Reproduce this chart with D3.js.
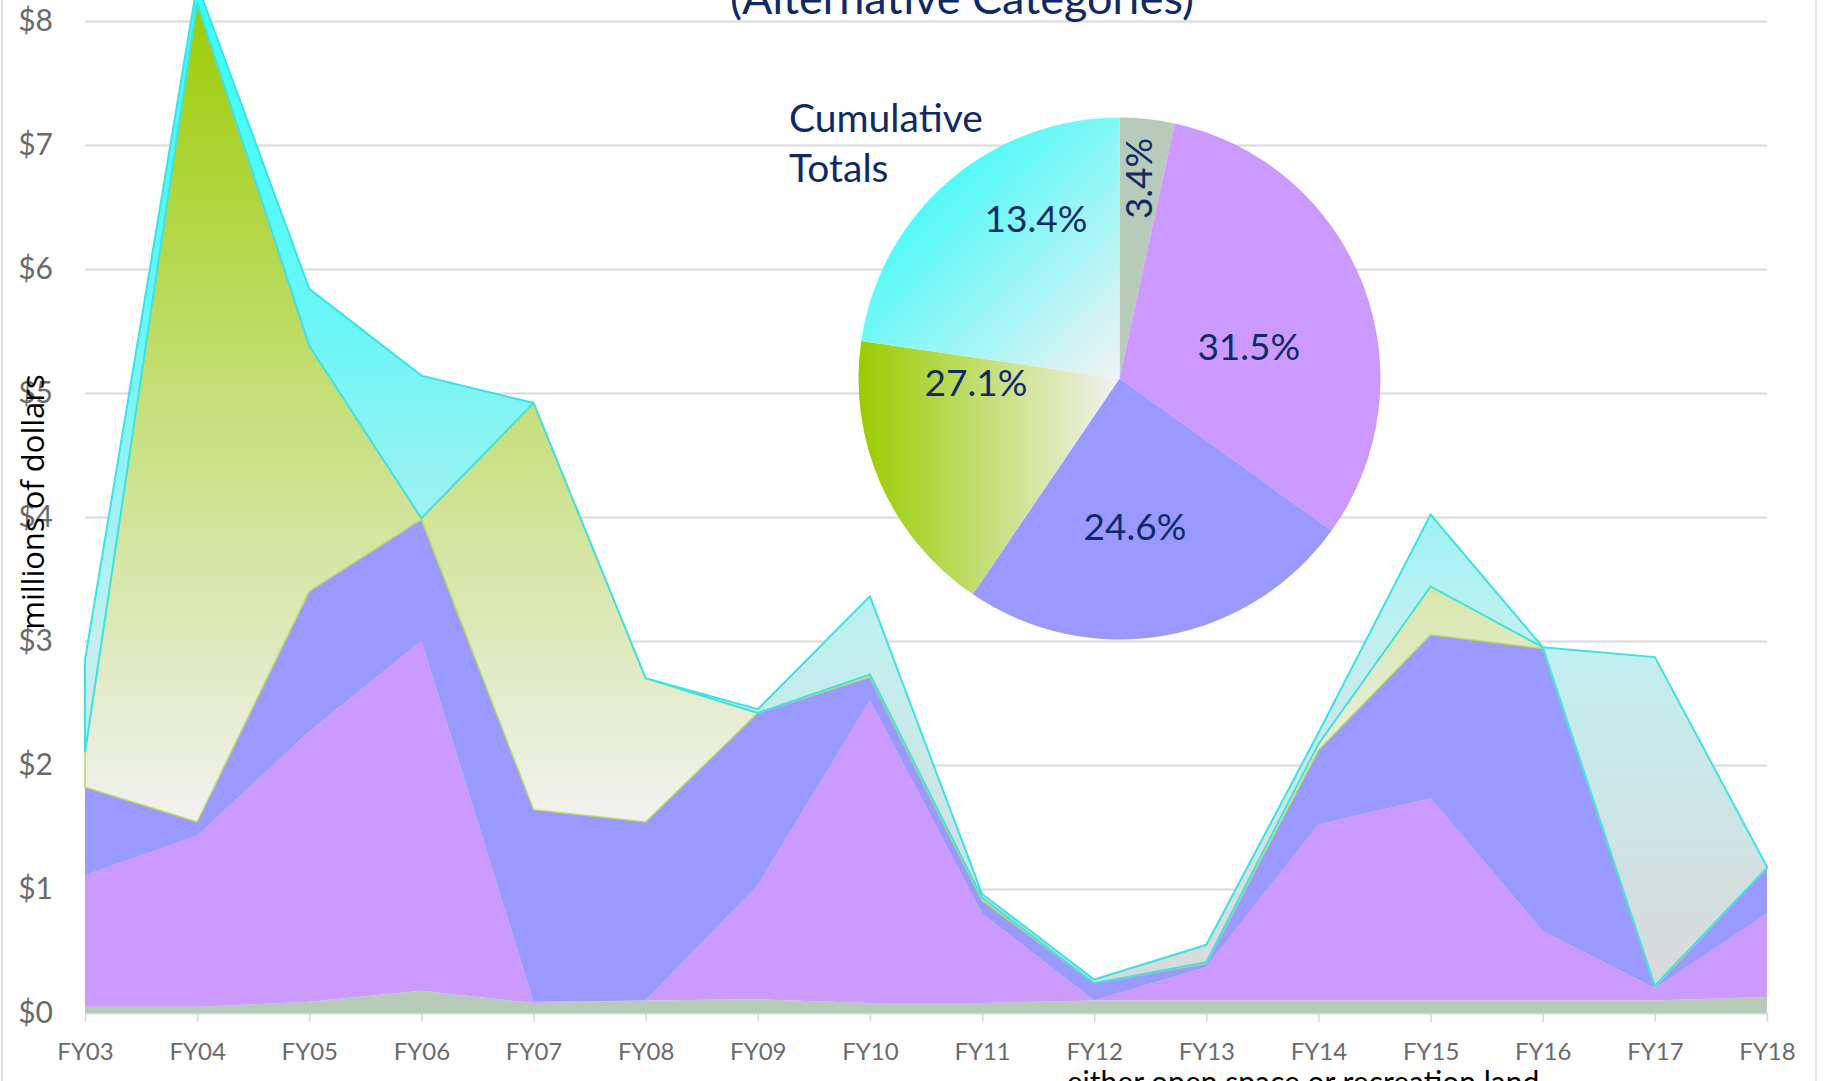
<!DOCTYPE html>
<html>
<head>
<meta charset="utf-8">
<script src="https://cdn.jsdelivr.net/npm/d3@7/dist/d3.min.js"></script>
<style>
    html, body { margin: 0; padding: 0; background: #fff; }
    svg { display: block; }
    text { font-family: Lato, "Noto Sans", sans-serif; }
</style>
</head>
<body>
<div id="chart"></div>
<script>
// fiscal years on the x axis
var years = ["FY03", "FY04", "FY05", "FY06", "FY07", "FY08", "FY09", "FY10",
             "FY11", "FY12", "FY13", "FY14", "FY15", "FY16", "FY17", "FY18"];

// stacked series, millions of dollars (bottom to top)
var greySeries   = [0.05, 0.05, 0.09, 0.18, 0.08, 0.10, 0.11, 0.08, 0.08, 0.10, 0.10, 0.10, 0.10, 0.10, 0.10, 0.13];
var purpleSeries = [1.06, 1.38, 2.18, 2.82, 0.01, 0.00, 0.92, 2.44, 0.72, 0.00, 0.27, 1.42, 1.63, 0.56, 0.10, 0.67];
var blueSeries   = [0.71, 0.11, 1.13, 0.98, 1.55, 1.44, 1.39, 0.19, 0.11, 0.14, 0.03, 0.60, 1.32, 2.28, 0.01, 0.37];
var greenSeries  = [0.28, 6.61, 1.98, 0.01, 3.28, 1.16, 0.00, 0.02, 0.02, 0.00, 0.01, 0.05, 0.39, 0.01, 0.01, 0.00];
var cyanSeries   = [0.75, 0.15, 0.46, 1.15, 0.00, 0.00, 0.03, 0.63, 0.03, 0.03, 0.14, 0.09, 0.58, 0.00, 2.65, 0.01];

var yTicks = [0, 1, 2, 3, 4, 5, 6, 7, 8];

// pie: slice sizes as drawn, and the printed labels
var pieShares = [3.4, 31.5, 24.6, 17.8, 22.7];
var pieLabelValues = [3.4, 31.5, 24.6, 27.1, 13.4];
var pieLabels = ["3.4%", "31.5%", "24.6%", "27.1%", "13.4%"];

var titleText = "(Alternative Categories)";
var pieTitle = ["Cumulative", "Totals"];
var yLabel = "millions of dollars";
var footText = "either open space or recreation land";

var W = 1825, H = 1081;
var navy = "#102a66";

var svg = d3.select("#chart").append("svg")
    .attr("width", W)
    .attr("height", H);

var defs = svg.append("defs");

var x = d3.scalePoint()
    .domain(years)
    .range([85, 1767]);

var y = d3.scaleLinear()
    .domain([0, 8])
    .range([1013, 21]);

// gradients
function linGrad(id, units, x1, y1, x2, y2, stops) {
    var g = defs.append("linearGradient")
        .attr("id", id)
        .attr("gradientUnits", units)
        .attr("x1", x1).attr("y1", y1)
        .attr("x2", x2).attr("y2", y2);
    stops.forEach(function(s) {
        g.append("stop").attr("offset", s[0]).attr("stop-color", s[1]);
    });
}
linGrad("greenArea", "userSpaceOnUse", 0, y(8.3), 0, y(1.5),
    [[0, "#99cc00"], [1, "#f2f2f2"]]);
// cyan fades quickly to a pale cyan, then to grey near the floor
linGrad("cyanArea", "userSpaceOnUse", 0, y(8.3), 0, y(0.2),
    [[0, "#33ffff"], [0.34, "#6af6f6"], [0.65, "#c2f0f0"], [1, "#d9d9d9"]]);
linGrad("greenPie", "objectBoundingBox", 0, 0, 1, 0,
    [[0, "#99cc00"], [1, "#f2f2f2"]]);
linGrad("cyanPie", "objectBoundingBox", 0, 0, 1, 1,
    [[0, "#33ffff"], [0.3, "#55f9f9"], [1, "#f2f2f2"]]);

// chart frame
svg.append("rect")
    .attr("x", 2).attr("y", -20)
    .attr("width", 1814).attr("height", H + 40)
    .attr("fill", "none")
    .attr("stroke", "#d9d9d9")
    .attr("stroke-width", 1.5);

// gridlines
var grid = svg.append("g")
    .attr("transform", "translate(85,0)")
    .call(d3.axisLeft(y).tickValues(yTicks).tickSize(-(1767 - 85)).tickFormat(""));
grid.select(".domain").remove();
grid.selectAll("line").attr("stroke", "#d9d9d9").attr("stroke-width", 2);

// x axis ticks + labels
var xAxis = svg.append("g")
    .attr("transform", "translate(0," + y(0) + ")")
    .call(d3.axisBottom(x).tickSize(9).tickPadding(21));
xAxis.select(".domain").remove();
xAxis.selectAll("line").attr("stroke", "#d9d9d9").attr("stroke-width", 1.5);
xAxis.selectAll("text")
    .attr("fill", "#6b6b6b")
    .style("font-size", "24px")
    .style("font-family", "Lato, sans-serif");

// y axis labels
var yAxis = svg.append("g")
    .attr("transform", "translate(85,0)")
    .call(d3.axisLeft(y).tickValues(yTicks).tickSize(0).tickPadding(32)
        .tickFormat(function(d) { return "$" + d; }));
yAxis.select(".domain").remove();
yAxis.selectAll("text")
    .attr("fill", "#6b6b6b")
    .style("font-size", "30px")
    .style("font-family", "Lato, sans-serif");

// stacked areas
var keys = ["grey", "purple", "blue", "green", "cyan"];
var rows = years.map(function(yr, i) {
    return {
        year: yr,
        grey: greySeries[i],
        purple: purpleSeries[i],
        blue: blueSeries[i],
        green: greenSeries[i],
        cyan: cyanSeries[i]
    };
});
var stacked = d3.stack().keys(keys)(rows);

var areaFill = { grey: "#b8cbbb", purple: "#cc99ff", blue: "#9999ff", green: "url(#greenArea)", cyan: "url(#cyanArea)" };
var areaStroke = { grey: "none", purple: "none", blue: "none", green: "#bcd85f", cyan: "#3fe2e2" };
var areaStrokeW = { grey: 0, purple: 0, blue: 0, green: 1.5, cyan: 2 };

var area = d3.area()
    .x(function(d) { return x(d.data.year); })
    .y0(function(d) { return y(d[0]); })
    .y1(function(d) { return y(d[1]); });

svg.append("g").selectAll("path")
    .data(stacked)
    .enter().append("path")
    .attr("d", area)
    .attr("fill", function(d) { return areaFill[d.key]; })
    .attr("stroke", function(d) { return areaStroke[d.key]; })
    .attr("stroke-width", function(d) { return areaStrokeW[d.key]; })
    .attr("stroke-linejoin", "miter");

// y axis title
svg.append("text")
    .attr("transform", "translate(44,502) rotate(-90)")
    .attr("text-anchor", "middle")
    .style("font-family", "'Open Sans', sans-serif")
    .style("font-size", "31px")
    .attr("fill", "#000")
    .text(yLabel);

// chart title (second line, mostly above the frame)
svg.append("text")
    .attr("x", 962).attr("y", 14)
    .attr("text-anchor", "middle")
    .style("font-size", "45px")
    .attr("fill", navy)
    .text(titleText);

// footer text, cut off at the bottom
svg.append("text")
    .attr("x", 1303).attr("y", 1093)
    .attr("text-anchor", "middle")
    .style("font-size", "30px")
    .attr("fill", "#000")
    .text(footText);

// pie
var pieCx = 1119.5, pieCy = 378.5, pieR = 261;
var pieFill = ["#b8cbbb", "#cc99ff", "#9999ff", "url(#greenPie)", "url(#cyanPie)"];

var pie = d3.pie().sort(null).value(function(d) { return d; });
var arc = d3.arc().innerRadius(0).outerRadius(pieR);

var pieG = svg.append("g")
    .attr("transform", "translate(" + pieCx + "," + pieCy + ")");

pieG.selectAll("path")
    .data(pie(pieShares))
    .enter().append("path")
    .attr("d", arc)
    .attr("fill", function(d, i) { return pieFill[i]; });

// labels sit where the printed percentages put them
var labelRadius = [0.77, 0.51, 0.57, 0.55, 0.69];
var labelNudge = [-0.6, 7.3, 4.1, 5.5, -3.5]; // degrees
pieG.selectAll("text.pl")
    .data(pie(pieLabelValues))
    .enter().append("text")
    .attr("class", "pl")
    .attr("transform", function(d, i) {
        var a = (d.startAngle + d.endAngle) / 2 + labelNudge[i] * Math.PI / 180;
        var r = pieR * labelRadius[i];
        var t = "translate(" + (r * Math.sin(a)) + "," + (-r * Math.cos(a)) + ")";
        if (i === 0) t += " rotate(-90)";
        return t;
    })
    .attr("text-anchor", "middle")
    .attr("dy", "0.36em")
    .style("font-size", "37px")
    .attr("fill", navy)
    .text(function(d, i) { return pieLabels[i]; });

svg.append("g").selectAll("text")
    .data(pieTitle)
    .enter().append("text")
    .attr("x", 789)
    .attr("y", function(d, i) { return 132 + i * 50; })
    .style("font-size", "39px")
    .attr("fill", navy)
    .text(function(d) { return d; });
</script>
</body>
</html>
